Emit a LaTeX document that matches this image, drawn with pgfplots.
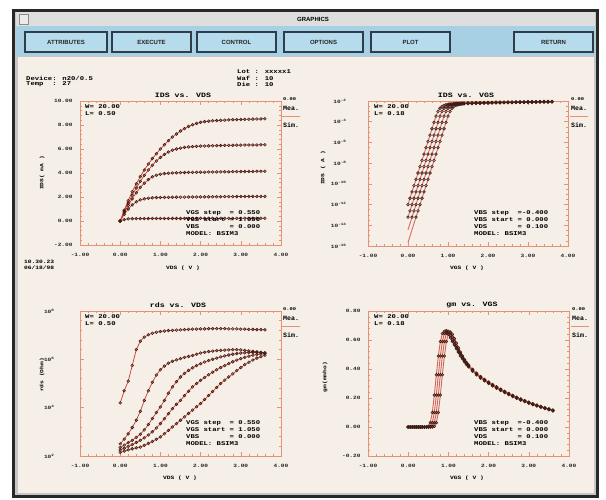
\documentclass[border=0pt]{standalone}
\usepackage{pgfplots}
\pgfplotsset{compat=1.18}
\usepackage{pgfplotstable}
\usepackage{fontspec}
\setmainfont{Liberation Sans}
\setsansfont{Liberation Sans}
\setmonofont{Liberation Mono}
\newfontfamily\wmono[FakeStretch=1.25]{Liberation Mono}
\definecolor{axc}{RGB}{230,145,115}
\definecolor{mea}{RGB}{62,30,22}
\definecolor{sim}{RGB}{200,60,45}
\definecolor{frm}{RGB}{40,40,40}
\definecolor{tbar}{RGB}{222,222,222}
\definecolor{bbar}{RGB}{168,208,228}
\definecolor{btn}{RGB}{182,219,236}
\definecolor{btnd}{RGB}{45,62,74}
\definecolor{content}{RGB}{245,239,232}
\newcommand\tk{\wmono\bfseries\fontsize{4.9}{5}\selectfont}
\newcommand\sm{\wmono\bfseries\fontsize{5.8}{7}\selectfont}
\newcommand\lb{\wmono\bfseries\fontsize{5}{6}\selectfont}
\newcommand\tl{\wmono\bfseries\fontsize{6.6}{7}\selectfont}

% IDS vs VDS (mA), five VGS steps
\pgfplotstableread{
x c1 c2 c3 c4 c5
0.0 0.00 0.00 0.00 0.00 0.00
0.1 0.90 0.80 0.70 0.55 0.12
0.2 1.70 1.50 1.30 1.00 0.17
0.3 2.45 2.15 1.85 1.35 0.19
0.4 3.10 2.75 2.35 1.60 0.20
0.5 3.70 3.30 2.80 1.76 0.20
0.6 4.25 3.80 3.15 1.85 0.20
0.7 4.75 4.25 3.45 1.90 0.20
0.8 5.20 4.65 3.68 1.93 0.21
0.9 5.60 5.00 3.82 1.95 0.21
1.0 6.00 5.30 3.90 1.96 0.21
1.1 6.35 5.55 3.95 1.97 0.21
1.2 6.70 5.75 3.98 1.97 0.21
1.3 7.00 5.90 4.00 1.98 0.21
1.4 7.25 6.00 4.02 1.98 0.21
1.5 7.50 6.08 4.03 1.99 0.21
1.6 7.70 6.13 4.04 1.99 0.21
1.7 7.88 6.17 4.05 2.00 0.21
1.8 8.02 6.20 4.05 2.00 0.22
1.9 8.13 6.22 4.06 2.00 0.22
2.0 8.22 6.24 4.07 2.01 0.22
2.1 8.28 6.25 4.07 2.01 0.22
2.2 8.32 6.26 4.08 2.01 0.22
2.3 8.35 6.27 4.08 2.02 0.22
2.4 8.37 6.28 4.09 2.02 0.22
2.5 8.39 6.29 4.09 2.02 0.22
2.6 8.41 6.30 4.10 2.03 0.22
2.7 8.42 6.30 4.10 2.03 0.22
2.8 8.44 6.31 4.11 2.03 0.22
2.9 8.45 6.32 4.11 2.04 0.22
3.0 8.46 6.32 4.12 2.04 0.22
3.1 8.47 6.33 4.12 2.04 0.23
3.2 8.48 6.33 4.13 2.04 0.23
3.3 8.49 6.34 4.13 2.05 0.23
3.4 8.50 6.34 4.14 2.05 0.23
3.5 8.51 6.35 4.14 2.05 0.23
3.6 8.52 6.35 4.15 2.05 0.23
}\tabIV

% log10 IDS (A) vs VGS, four VBS steps
\pgfplotstableread{
x A B C D
0.00 -12.00 -13.22 -14.44 -15.66
0.05 -11.39 -12.61 -13.83 -15.05
0.10 -10.78 -12.00 -13.22 -14.44
0.15 -10.17 -11.39 -12.61 -13.83
0.20 -9.56 -10.78 -12.00 -13.22
0.25 -8.95 -10.17 -11.39 -12.61
0.30 -8.34 -9.56 -10.78 -12.00
0.35 -7.73 -8.95 -10.17 -11.39
0.40 -7.12 -8.34 -9.56 -10.78
0.45 -6.51 -7.73 -8.95 -10.17
0.50 -5.90 -7.12 -8.34 -9.56
0.55 -5.29 -6.51 -7.73 -8.95
0.60 -4.68 -5.90 -7.12 -8.34
0.65 -4.07 -5.29 -6.51 -7.73
0.70 -3.46 -4.68 -5.90 -7.12
0.75 -3.00 -4.07 -5.29 -6.51
0.80 -2.70 -3.46 -4.68 -5.90
0.85 -2.52 -3.00 -4.07 -5.29
0.90 -2.42 -2.70 -3.46 -4.68
0.95 -2.36 -2.52 -3.00 -4.07
1.00 -2.32 -2.42 -2.70 -3.46
1.05 -2.29 -2.36 -2.52 -3.00
1.10 -2.27 -2.32 -2.42 -2.70
1.15 -2.25 -2.29 -2.36 -2.52
1.20 -2.24 -2.27 -2.32 -2.42
1.25 -2.23 -2.25 -2.29 -2.36
1.30 -2.22 -2.24 -2.27 -2.32
1.35 -2.21 -2.23 -2.25 -2.29
1.40 -2.20 -2.22 -2.24 -2.27
1.5 -2.19 -2.21 -2.23 -2.25
1.6 -2.18 -2.20 -2.22 -2.24
1.7 -2.17 -2.19 -2.21 -2.23
1.8 -2.16 -2.18 -2.20 -2.22
1.9 -2.15 -2.17 -2.19 -2.21
2.0 -2.14 -2.16 -2.18 -2.20
2.1 -2.13 -2.15 -2.17 -2.19
2.2 -2.12 -2.14 -2.16 -2.18
2.3 -2.12 -2.14 -2.15 -2.17
2.4 -2.11 -2.13 -2.15 -2.16
2.5 -2.10 -2.12 -2.14 -2.16
2.6 -2.10 -2.12 -2.13 -2.15
2.7 -2.09 -2.11 -2.13 -2.14
2.8 -2.08 -2.10 -2.12 -2.14
2.9 -2.08 -2.10 -2.11 -2.13
3.0 -2.07 -2.09 -2.11 -2.12
3.1 -2.07 -2.08 -2.10 -2.12
3.2 -2.06 -2.08 -2.10 -2.11
3.3 -2.06 -2.07 -2.09 -2.11
3.4 -2.05 -2.07 -2.09 -2.10
3.5 -2.05 -2.06 -2.08 -2.10
3.6 -2.04 -2.06 -2.08 -2.09
}\tabIG

% log10 rds (Ohm) vs VDS
\pgfplotstableread{
x t c2 c3 c4 c5
0.0 4.20 2.50 2.35 2.25 2.15
0.1 4.70 2.70 2.45 2.32 2.20
0.2 5.10 2.92 2.55 2.40 2.25
0.3 5.75 3.18 2.65 2.47 2.30
0.4 6.40 3.48 2.77 2.56 2.34
0.5 6.75 3.85 2.90 2.65 2.37
0.6 6.92 4.30 3.08 2.75 2.44
0.7 7.02 4.70 3.30 2.87 2.52
0.8 7.08 5.05 3.55 3.00 2.60
0.9 7.12 5.35 3.80 3.16 2.69
1.0 7.15 5.57 4.03 3.34 2.79
1.1 7.17 5.72 4.30 3.54 2.92
1.2 7.19 5.84 4.60 3.75 3.06
1.3 7.20 5.92 4.86 3.96 3.20
1.4 7.21 5.98 5.08 4.14 3.34
1.5 7.22 6.03 5.27 4.30 3.48
1.6 7.23 6.08 5.42 4.50 3.62
1.7 7.24 6.12 5.54 4.68 3.76
1.8 7.25 6.16 5.65 4.86 3.90
1.9 7.25 6.21 5.74 5.00 4.04
2.0 7.26 6.26 5.82 5.13 4.17
2.1 7.26 6.29 5.89 5.25 4.34
2.2 7.27 6.32 5.95 5.36 4.50
2.3 7.27 6.34 6.00 5.47 4.67
2.4 7.27 6.36 6.05 5.57 4.84
2.5 7.27 6.37 6.10 5.66 5.00
2.6 7.27 6.38 6.14 5.74 5.14
2.7 7.26 6.39 6.18 5.82 5.27
2.8 7.26 6.40 6.21 5.90 5.40
2.9 7.26 6.40 6.24 5.97 5.53
3.0 7.25 6.39 6.26 6.03 5.66
3.1 7.25 6.37 6.27 6.08 5.78
3.2 7.24 6.35 6.28 6.13 5.88
3.3 7.24 6.33 6.28 6.17 5.97
3.4 7.23 6.31 6.28 6.20 6.05
3.5 7.23 6.29 6.27 6.22 6.11
3.6 7.22 6.27 6.26 6.23 6.17
}\tabRD

% gm vs VGS
\pgfplotstableread{
x a b c d
0.00 0.000 0.000 0.000 0.000
0.05 0.000 0.000 0.000 0.000
0.10 0.000 0.000 0.000 0.000
0.15 0.000 0.000 0.000 0.000
0.20 0.000 0.000 0.000 0.000
0.25 0.000 0.000 0.000 0.000
0.30 0.000 0.000 0.000 0.000
0.35 0.000 0.000 0.000 0.000
0.40 0.000 0.000 0.000 0.000
0.45 0.000 0.000 0.000 0.000
0.50 0.005 0.000 0.000 0.000
0.55 0.030 0.005 0.000 0.000
0.60 0.100 0.030 0.005 0.000
0.65 0.220 0.100 0.030 0.005
0.70 0.360 0.220 0.100 0.030
0.75 0.490 0.360 0.220 0.100
0.80 0.590 0.490 0.360 0.220
0.85 0.645 0.590 0.490 0.360
0.90 0.660 0.645 0.590 0.490
0.95 0.655 0.665 0.645 0.590
1.00 0.640 0.655 0.660 0.640
1.05 0.615 0.630 0.648 0.655
1.10 0.590 0.600 0.620 0.640
1.15 0.565 0.572 0.590 0.610
1.20 0.540 0.547 0.560 0.578
1.25 0.515 0.522 0.532 0.545
1.30 0.490 0.498 0.506 0.516
1.35 0.470 0.476 0.482 0.490
1.40 0.450 0.455 0.460 0.467
1.45 0.430 0.436 0.440 0.446
1.50 0.415 0.420 0.424 0.428
1.6 0.385 0.390 0.394 0.398
1.7 0.360 0.365 0.368 0.371
1.8 0.337 0.342 0.345 0.348
1.9 0.318 0.322 0.325 0.328
2.0 0.300 0.304 0.307 0.310
2.1 0.283 0.287 0.290 0.293
2.2 0.267 0.271 0.274 0.277
2.3 0.252 0.255 0.258 0.261
2.4 0.237 0.240 0.243 0.246
2.5 0.223 0.226 0.229 0.232
2.6 0.210 0.213 0.216 0.218
2.7 0.198 0.200 0.203 0.205
2.8 0.186 0.188 0.191 0.193
2.9 0.175 0.177 0.180 0.182
3.0 0.164 0.166 0.169 0.171
3.1 0.154 0.156 0.159 0.161
3.2 0.145 0.147 0.149 0.151
3.3 0.136 0.138 0.140 0.142
3.4 0.127 0.129 0.131 0.133
3.5 0.119 0.121 0.123 0.125
3.6 0.111 0.113 0.115 0.117
}\tabGM

\pgfplotsset{
  scr/.style={
    scale only axis,
    xmin=-1, xmax=4, xtick={-1,0,1,2,3,4},
    axis line style={draw=axc, line width=0.9pt},
    tick style={draw=axc, line width=0.5pt},
    major tick length=4pt, minor tick length=2pt,
    minor tick num=4,
    tick align=inside,
    xtick pos=both, ytick pos=both,
    tick label style={font=\tk, text=black!85},
    /pgf/number format/fixed,
    /pgf/number format/fixed zerofill,
    /pgf/number format/precision=2,
    /pgf/number format/assume math mode=true,
    xticklabel style={yshift=-5pt},
    yticklabel style={xshift=-4pt},
    clip=false,
  },
  simp/.style={sim, line width=0.7pt},
  meap/.style={mea, only marks, mark=o, mark size=1.35pt, line width=0.6pt},
}

\begin{document}
\begin{tikzpicture}
% ---------- window ----------
\fill[white] (0,0) rectangle (606pt,499pt);
\fill[frm] (12pt,1pt) rectangle (599pt,490pt);
\fill[black!22] (15pt,4pt) rectangle (596pt,487pt);
\fill[tbar] (16pt,473pt) rectangle (595pt,487pt);
\fill[bbar] (16pt,443pt) rectangle (595pt,473pt);
\fill[content] (18pt,6pt) rectangle (594pt,442pt);
\filldraw[fill=black!8, draw=black!45, line width=0.4pt] (19pt,475pt) rectangle (28pt,485pt);
\node[font=\sffamily\bfseries\fontsize{6}{7}\selectfont] at (313pt,480pt) {GRAPHICS};
\foreach \a/\b/\t in {25/107/ATTRIBUTES,112/191/EXECUTE,197/276/CONTROL,284/363/OPTIONS,371/450/PLOT,514/593/RETURN}{
  \filldraw[fill=btn, draw=btnd, line width=1.1pt] (\a pt,447pt) rectangle (\b pt,467pt);
  \node[font=\sffamily\bfseries\fontsize{6}{6}\selectfont, text=black!85] at ({(\a+\b)/2*1pt},457pt) {\t};
}
% ---------- header text ----------
\node[anchor=west, font=\sm, inner sep=0] at (26pt,421pt) {Device: n20/0.5};
\node[anchor=west, font=\sm, inner sep=0] at (26pt,415pt) {Temp~~: 27};
\node[anchor=west, font=\sm, inner sep=0] at (237pt,427pt) {Lot : xxxxx1};
\node[anchor=west, font=\sm, inner sep=0] at (237pt,421pt) {Waf : 10};
\node[anchor=west, font=\sm, inner sep=0] at (237pt,415pt) {Die : 10};
\node[anchor=west, font=\lb, inner sep=0] at (24pt,237pt) {10.30.23};
\node[anchor=west, font=\lb, inner sep=0] at (24pt,231pt) {06/18/98};

% ---------- P1: IDS vs VDS ----------
\begin{axis}[scr, at={(80pt,254pt)}, anchor=south west, width=201pt, height=144pt,
  ymin=-2, ymax=10, ytick={-2,0,2,4,6,8,10}]
  \foreach \c in {c1,c2,c3,c4,c5}{
    \addplot[meap] table[x=x, y=\c] {\tabIV};
    \addplot[simp] table[x=x, y=\c] {\tabIV};
  }
\end{axis}
% ---------- P2: IDS vs VGS (log) ----------
\begin{axis}[scr, at={(368pt,253pt)}, anchor=south west, width=200pt, height=145pt,
  ymin=-16, ymax=-2, ytick={-16,-14,-12,-10,-8,-6,-4,-2}, minor y tick num=3,
  yticklabels={10\textsuperscript{-16},10\textsuperscript{-14},10\textsuperscript{-12},10\textsuperscript{-10},10\textsuperscript{-8},10\textsuperscript{-6},10\textsuperscript{-4},10\textsuperscript{-2}},
  yticklabel style={xshift=-14pt}]
  \foreach \c in {A,B,C,D}{
    \addplot[simp, sim!70, line width=1pt] table[x=x, y=\c] {\tabIG};
    \addplot[meap, restrict y to domain=-13.8:0] table[x=x, y=\c] {\tabIG};
  }
\end{axis}
% ---------- P3: rds vs VDS (log) ----------
\begin{axis}[scr, at={(80pt,43pt)}, anchor=south west, width=201pt, height=145pt,
  ymin=2, ymax=8, ytick={2,4,6,8},
  yticklabels={10\textsuperscript{2},10\textsuperscript{4},10\textsuperscript{6},10\textsuperscript{8}},
  yticklabel style={xshift=-18pt}]
  \foreach \c in {t,c2,c3,c4,c5}{
    \addplot[meap] table[x=x, y=\c] {\tabRD};
    \addplot[simp] table[x=x, y=\c] {\tabRD};
  }
\end{axis}
% ---------- P4: gm vs VGS ----------
\begin{axis}[scr, at={(368pt,43pt)}, anchor=south west, width=201pt, height=145pt,
  ymin=-0.2, ymax=0.8, ytick={-0.2,0,0.2,0.4,0.6,0.8}]
  \foreach \c in {a,b,c,d}{
    \addplot[simp, sim!80, line width=0.9pt] table[x=x, y=\c] {\tabGM};
    \addplot[meap] table[x=x, y=\c] {\tabGM};
  }
\end{axis}

% ---------- titles and labels ----------
\node[font=\tl] at (183pt,404pt) {IDS vs. VDS};
\node[font=\tl] at (466pt,404pt) {IDS vs. VGS};
\node[font=\tl] at (178pt,194pt) {rds vs. VDS};
\node[font=\tl] at (472pt,194pt) {gm vs. VGS};
\node[font=\lb] at (183pt,231pt) {VDS ( V )};
\node[font=\lb] at (467pt,231pt) {VGS ( V )};
\node[font=\lb] at (180pt,21pt) {VDS ( V )};
\node[font=\lb] at (467pt,21pt) {VGS ( V )};
\node[font=\lb, rotate=90] at (42pt,326pt) {IDS( mA )};
\node[font=\lb, rotate=90] at (323pt,331pt) {IDS ( A )};
\node[font=\lb, rotate=90] at (42pt,124pt) {rds (Ohm)};
\node[font=\lb, rotate=90] at (325pt,122pt) {gm(mmho)};

% W / L
\foreach \x/\y/\l in {85/395/0.50,374/395/0.18,85/185/0.50,374/185/0.18}{
  \node[anchor=north west, font=\sm, align=left, inner sep=0] at (\x pt,\y pt) {W= 20.00\\L= \l};
}
% bias annotations
\foreach \x/\y in {186/290,186/80}{
  \node[anchor=north west, font=\sm, inner sep=0] at (\x pt,\y pt)
   {\begin{tabular}{@{}l@{ }l@{}}VGS step&= 0.550\\VGS start&= 1.050\\VBS&= 0.000\\\multicolumn{2}{@{}l@{}}{MODEL: BSIM3}\end{tabular}};
}
\foreach \x/\y in {474/290,474/80}{
  \node[anchor=north west, font=\sm, inner sep=0] at (\x pt,\y pt)
   {\begin{tabular}{@{}l@{ }l@{}}VBS step&=-0.400\\VBS start&= 0.000\\VDS&= 0.100\\\multicolumn{2}{@{}l@{}}{MODEL: BSIM3}\end{tabular}};
}
% Mea./Sim. keys
\foreach \x/\y in {281/400,569/400,281/190,570/190}{
  \node[anchor=west, font=\wmono\bfseries\fontsize{4.3}{5}\selectfont, inner sep=0] at (\x pt+2pt,\y pt) {0.00};
  \node[anchor=west, font=\ttfamily\bfseries\fontsize{6.6}{7}\selectfont, inner sep=0] at (\x pt+2pt,\y pt-9pt) {Mea.};
  \draw[axc, line width=0.8pt] (\x pt+1pt,\y pt-17pt) -- (\x pt+19pt,\y pt-17pt);
  \node[anchor=west, font=\ttfamily\bfseries\fontsize{6.6}{7}\selectfont, inner sep=0] at (\x pt+2pt,\y pt-26pt) {Sim.};
}
\pgfresetboundingbox
\useasboundingbox (0,0) rectangle (606pt,499pt);
\end{tikzpicture}
\end{document}
